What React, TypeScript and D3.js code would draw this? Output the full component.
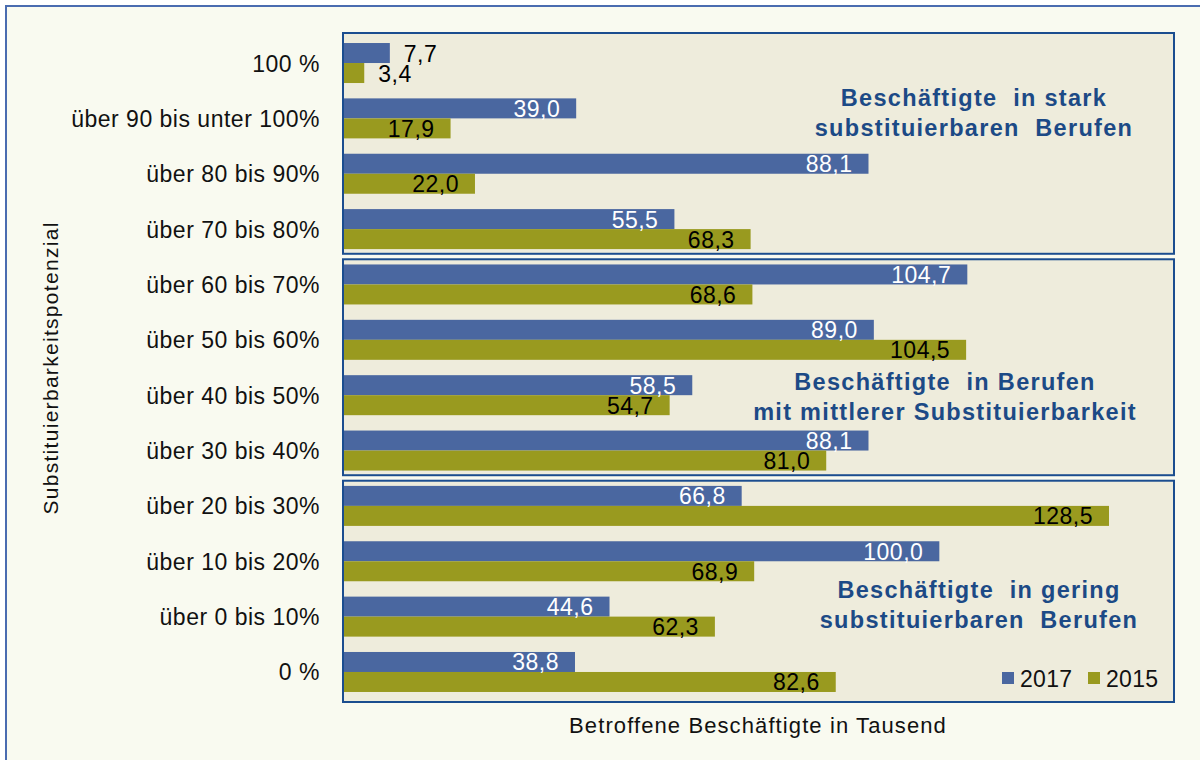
import React from "react";
import * as d3 from "d3";

const categories = [
  "100 %",
  "über 90 bis unter 100%",
  "über 80 bis 90%",
  "über 70 bis 80%",
  "über 60 bis 70%",
  "über 50 bis 60%",
  "über 40 bis 50%",
  "über 30 bis 40%",
  "über 20 bis 30%",
  "über 10 bis 20%",
  "über 0 bis 10%",
  "0 %",
];
const values2017 = [7.7, 39.0, 88.1, 55.5, 104.7, 89.0, 58.5, 88.1, 66.8, 100.0, 44.6, 38.8];
const values2015 = [3.4, 17.9, 22.0, 68.3, 68.6, 104.5, 54.7, 81.0, 128.5, 68.9, 62.3, 82.6];
const seriesNames = ["2017", "2015"];
const groups = [
  { from: 0, to: 3, lines: ["Beschäftigte  in stark", "substituierbaren  Berufen"] },
  { from: 4, to: 7, lines: ["Beschäftigte  in Berufen", "mit mittlerer Substituierbarkeit"] },
  { from: 8, to: 11, lines: ["Beschäftigte  in gering", "substituierbaren  Berufen"] },
];

const W = 1200;
const H = 760;
const BLUE = "#4a67a0";
const OLIVE = "#999a1f";
const BOXFILL = "#eeecdc";
const BOXSTROKE = "#1b4d8f";
const TEXTBLUE = "#1c4a86";
const FONT = "'Liberation Sans', Arial, sans-serif";
const FS = 23;
const LS = 0.5;

export default function App() {
  const x = d3.scaleLinear().domain([0, 128.5]).range([344, 1109]);
  const y = d3
    .scaleBand<string>()
    .domain(categories)
    .range([33, 702])
    .paddingInner(0.2775)
    .paddingOuter(0.181);
  const bw = y.bandwidth();
  const half = bw / 2;
  const boxLeft = 343;
  const boxRight = 1174;

  const groupStart = (i: number) => y(categories[i])!;
  const groupEnd = (i: number) => y(categories[i])! + bw;

  const boxes = groups.map((g, gi) => {
    const top =
      gi === 0 ? 33 : (groupEnd(g.from - 1) + groupStart(g.from)) / 2 + 2.5;
    const bottom =
      gi === groups.length - 1
        ? 702
        : (groupEnd(g.to) + groupStart(g.to + 1)) / 2 - 3;
    return { ...g, top, bottom };
  });

  const textCenters = [974, 945, 979];
  const textBaselines = [106, 390, 598];

  const fmt = (v: number) => v.toFixed(1).replace(".", ",");

  return (
    <svg
      width={W}
      height={H}
      style={{ position: "absolute", left: 0, top: 0, display: "block" }}
      fontFamily={FONT}
    >
      <rect x={0} y={0} width={W} height={H} fill="#ffffff" />
      <rect x={6} y={6} width={W + 20} height={H + 20} fill="#f9faf0" stroke="#4a6cb0" strokeWidth={2} />

      {boxes.map((b, i) => (
        <rect
          key={"box" + i}
          x={boxLeft}
          y={b.top}
          width={boxRight - boxLeft}
          height={b.bottom - b.top}
          fill={BOXFILL}
          stroke={BOXSTROKE}
          strokeWidth={2}
        />
      ))}

      {categories.map((c, i) => {
        const y0 = y(c)!;
        const v17 = values2017[i];
        const v15 = values2015[i];
        return (
          <g key={c}>
            <rect x={x(0)} y={y0} width={x(v17) - x(0)} height={half} fill={BLUE} />
            <rect x={x(0)} y={y0 + half} width={x(v15) - x(0)} height={half} fill={OLIVE} />
            {v17 < 10 ? (
              <text x={x(v17) + 14} y={y0 + half / 2} dy="0.37em" fontSize={FS} letterSpacing={LS} fill="#000">
                {fmt(v17)}
              </text>
            ) : (
              <text x={x(v17) - 16} y={y0 + half / 2} dy="0.37em" fontSize={FS} letterSpacing={LS} fill="#ffffff" textAnchor="end">
                {fmt(v17)}
              </text>
            )}
            {v15 < 10 ? (
              <text x={x(v15) + 14} y={y0 + half * 1.5} dy="0.37em" fontSize={FS} letterSpacing={LS} fill="#000">
                {fmt(v15)}
              </text>
            ) : (
              <text x={x(v15) - 16} y={y0 + half * 1.5} dy="0.37em" fontSize={FS} letterSpacing={LS} fill="#000" textAnchor="end">
                {fmt(v15)}
              </text>
            )}
            <text
              x={320}
              y={y0 + bw / 2}
              dy="0.37em"
              fontSize={FS}
              letterSpacing={LS}
              fill="#111"
              textAnchor="end"
            >
              {c}
            </text>
          </g>
        );
      })}

      {boxes.map((b, i) => (
        <text
          key={"t" + i}
          fontSize={23.5}
          fontWeight="bold"
          letterSpacing={1.3}
          fill={TEXTBLUE}
          textAnchor="middle"
          style={{ whiteSpace: "pre" }}
        >
          {b.lines.map((l, li) => (
            <tspan key={li} x={textCenters[i]} y={textBaselines[i] + li * 30}>
              {l}
            </tspan>
          ))}
        </text>
      ))}

      {/* Legend */}
      <rect x={1002} y={672} width={12} height={12} fill={BLUE} />
      <text x={1020} y={687} fontSize={FS} letterSpacing={0.3} fill="#111">{seriesNames[0]}</text>
      <rect x={1088} y={672} width={12} height={12} fill={OLIVE} />
      <text x={1106} y={687} fontSize={FS} letterSpacing={0.3} fill="#111">{seriesNames[1]}</text>

      {/* Axis titles */}
      <text x={758} y={733} fontSize={22} letterSpacing={1.1} fill="#111" textAnchor="middle">
        Betroffene Beschäftigte in Tausend
      </text>
      <text
        transform={`translate(58,368) rotate(-90)`}
        fontSize={21}
        letterSpacing={1.3}
        fill="#111"
        textAnchor="middle"
      >
        Substituierbarkeitspotenzial
      </text>
    </svg>
  );
}
